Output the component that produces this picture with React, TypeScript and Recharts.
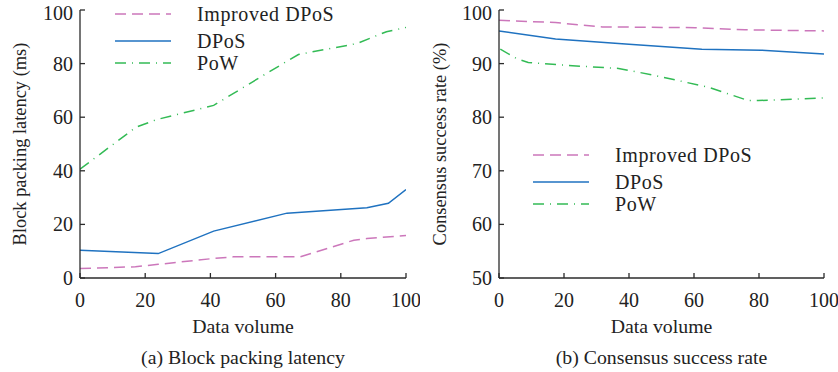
import React from "react";
import { LineChart, Line, XAxis, YAxis, Legend, Label } from "recharts";

const X_TICKS = [0, 20, 40, 60, 80, 100];
const LATENCY_TICKS = [0, 20, 40, 60, 80, 100];
const SUCCESS_TICKS = [50, 60, 70, 80, 90, 100];

const SERIES_NAMES = ["Improved DPoS", "DPoS", "PoW"];

// (a) block packing latency, ms
const latencyImproved = [
  { x: 0, y: 3.5 },
  { x: 17, y: 4.2 },
  { x: 24, y: 5.1 },
  { x: 41, y: 7.3 },
  { x: 47, y: 7.9 },
  { x: 67.5, y: 7.9 },
  { x: 84, y: 14.1 },
  { x: 88, y: 14.7 },
  { x: 100, y: 15.9 },
];
const latencyDpos = [
  { x: 0, y: 10.4 },
  { x: 24, y: 9.1 },
  { x: 41, y: 17.5 },
  { x: 63.5, y: 24.2 },
  { x: 88, y: 26.2 },
  { x: 94.6, y: 27.9 },
  { x: 100, y: 33 },
];
const latencyPow = [
  { x: 0, y: 40.6 },
  { x: 17.2, y: 56.3 },
  { x: 23.5, y: 59.1 },
  { x: 41, y: 64.4 },
  { x: 57.3, y: 76.4 },
  { x: 67, y: 83.4 },
  { x: 85, y: 87.5 },
  { x: 94, y: 91.9 },
  { x: 100, y: 93.5 },
];

// (b) consensus success rate, %
const successImproved = [
  { x: 0, y: 98.1 },
  { x: 17.4, y: 97.65 },
  { x: 31.8, y: 96.85 },
  { x: 60.4, y: 96.7 },
  { x: 75.7, y: 96.3 },
  { x: 100, y: 96.1 },
];
const successDpos = [
  { x: 0, y: 96.1 },
  { x: 17.4, y: 94.6 },
  { x: 40, y: 93.6 },
  { x: 62.4, y: 92.7 },
  { x: 80.8, y: 92.5 },
  { x: 100, y: 91.8 },
];
const successPow = [
  { x: 0.4, y: 92.7 },
  { x: 5.5, y: 90.9 },
  { x: 9, y: 90.2 },
  { x: 22.6, y: 89.6 },
  { x: 36.8, y: 89.1 },
  { x: 47.1, y: 87.9 },
  { x: 64.4, y: 85.6 },
  { x: 76.7, y: 83.1 },
  { x: 79.8, y: 83.1 },
  { x: 100, y: 83.6 },
];

const FONT = "'Liberation Serif', 'Times New Roman', serif";
const AXIS = "#2b2b2b";
const TEXT = "#222";
const STYLES = [
  { color: "#cc77bb", dash: "11 6" },
  { color: "#1f72c0", dash: undefined },
  { color: "#33bb55", dash: "11 6 1 6" },
];

const XTick = (props: any) => {
  const { x, y, payload } = props;
  return (
    <g>
      <line x1={x} x2={x} y1={y} y2={y - 5} stroke={AXIS} strokeWidth={1.3} />
      <text x={x} y={y + 29} textAnchor="middle" fontSize={20} fontFamily={FONT} fill={TEXT}>
        {payload.value}
      </text>
    </g>
  );
};

const YTick = (props: any) => {
  const { x, y, payload } = props;
  // keep the top label inside the picture
  const baseline = Math.max(y + 7, 20);
  return (
    <g>
      <line x1={x} x2={x + 5} y1={y} y2={y} stroke={AXIS} strokeWidth={1.3} />
      <text x={x - 7} y={baseline} textAnchor="end" fontSize={20} fontFamily={FONT} fill={TEXT}>
        {payload.value}
      </text>
    </g>
  );
};

const ROW_TOPS = [0, 27, 49];

const LegendBox = () => (
  <div style={{ position: "relative", width: 220, height: 70, fontFamily: FONT, fontSize: 20, color: TEXT }}>
    {SERIES_NAMES.map((name, i) => (
      <div key={name} style={{ position: "absolute", top: ROW_TOPS[i], left: 0, height: 20, display: "flex", alignItems: "center" }}>
        <svg width={56} height={6}>
          <line x1={0} x2={56} y1={3} y2={3} stroke={STYLES[i].color} strokeWidth={1.6} strokeDasharray={STYLES[i].dash} />
        </svg>
        <span style={{ marginLeft: 26, whiteSpace: "nowrap", lineHeight: "20px", letterSpacing: 0.6 }}>{name}</span>
      </div>
    ))}
  </div>
);

type PanelProps = {
  series: Array<Array<{ x: number; y: number }>>;
  domain: [number, number];
  yTicks: number[];
  yTitle: string;
  caption: string;
  legendTop: number;
  legendLeft: number;
  width: number;
  yAxisWidth: number;
};

const Panel = ({ series, domain, yTicks, yTitle, caption, legendTop, legendLeft, width, yAxisWidth }: PanelProps) => (
  <LineChart width={width} height={372} margin={{ top: 10, right: 14, bottom: 0, left: 0 }}>
    <XAxis
      type="number"
      dataKey="x"
      domain={[0, 100]}
      ticks={X_TICKS}
      allowDataOverflow
      height={94}
      tickSize={0}
      tickMargin={0}
      tickLine={false}
      tick={<XTick />}
      axisLine={{ stroke: AXIS, strokeWidth: 1.3 }}
    >
      <Label value="Data volume" position="insideTop" offset={41} style={{ fontFamily: FONT, fontSize: 19.8, fill: TEXT }} />
      <Label value={caption} position="insideTop" offset={72} style={{ fontFamily: FONT, fontSize: 19.8, fill: TEXT }} />
    </XAxis>
    <YAxis
      type="number"
      domain={domain}
      ticks={yTicks}
      width={yAxisWidth}
      tickSize={0}
      tickMargin={0}
      tickLine={false}
      tick={<YTick />}
      axisLine={{ stroke: AXIS, strokeWidth: 1.3 }}
    >
      <Label
        value={yTitle}
        angle={-90}
        position="insideLeft"
        offset={19}
        style={{ fontFamily: FONT, fontSize: 18.4, fill: TEXT, textAnchor: "middle" }}
      />
    </YAxis>
    <Legend
      layout="vertical"
      align="center"
      verticalAlign="middle"
      wrapperStyle={{ top: legendTop, left: legendLeft, width: 240 }}
      content={() => <LegendBox />}
    />
    {series.map((data, i) => (
      <Line
        key={SERIES_NAMES[i]}
        data={data}
        dataKey="y"
        name={SERIES_NAMES[i]}
        type="linear"
        stroke={STYLES[i].color}
        strokeWidth={1.5}
        strokeDasharray={STYLES[i].dash}
        dot={false}
        activeDot={false}
        isAnimationActive={false}
      />
    ))}
  </LineChart>
);

export default function App() {
  return (
    <div style={{ position: "absolute", left: 0, top: 0, width: 838, height: 372, background: "#fff", display: "flex" }}>
      <Panel
        series={[latencyImproved, latencyDpos, latencyPow]}
        domain={[0, 100]}
        yTicks={LATENCY_TICKS}
        yTitle="Block packing latency (ms)"
        caption="(a) Block packing latency"
        legendTop={4}
        legendLeft={115}
        width={420}
        yAxisWidth={80}
      />
      <Panel
        series={[successImproved, successDpos, successPow]}
        domain={[50, 100]}
        yTicks={SUCCESS_TICKS}
        yTitle="Consensus success rate (%)"
        caption="(b) Consensus success rate"
        legendTop={145}
        legendLeft={113}
        width={418}
        yAxisWidth={79}
      />
    </div>
  );
}
